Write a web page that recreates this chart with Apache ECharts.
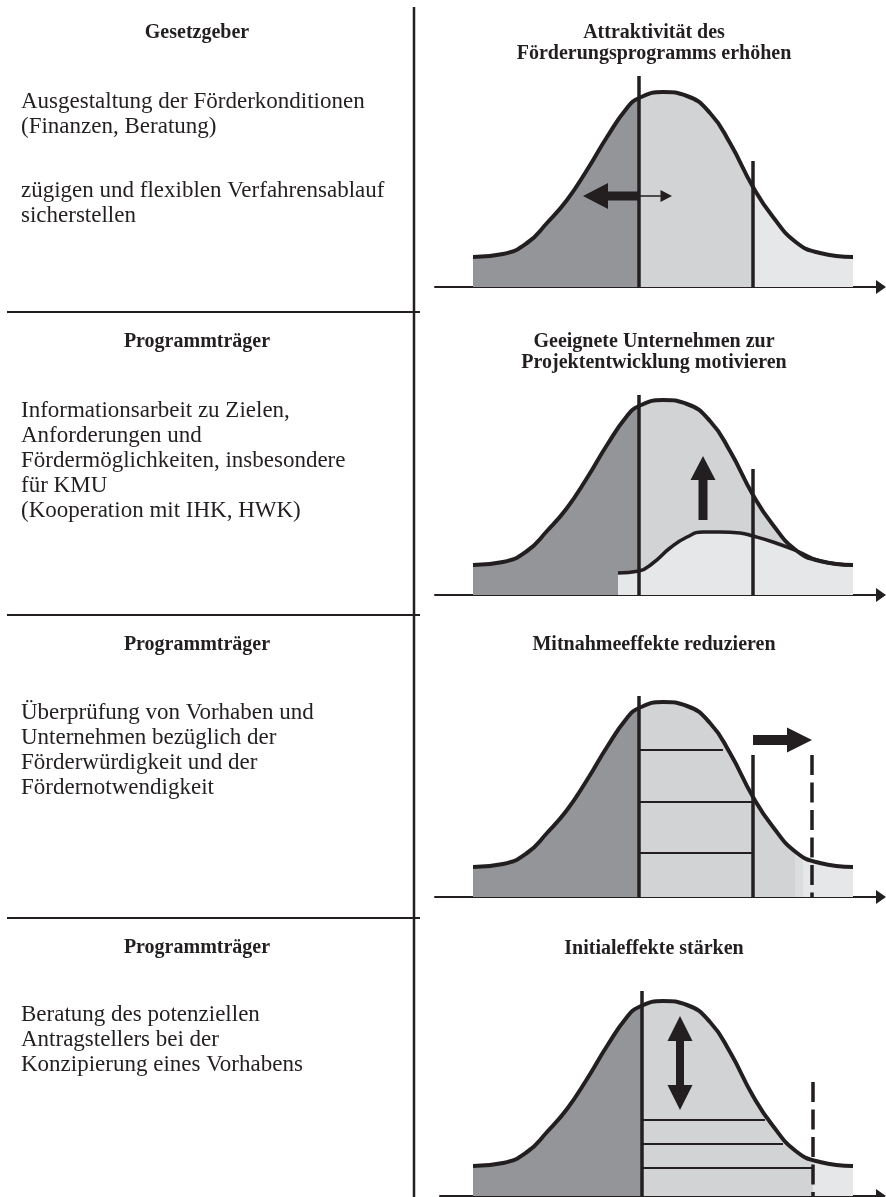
<!DOCTYPE html>
<html>
<head>
<meta charset="utf-8">
<title>Förderprogramm – Wirkungen</title>
<script src="https://cdn.jsdelivr.net/npm/echarts@6/dist/echarts.min.js"></script>
<style>
html, body { margin: 0; padding: 0; background: #fff; }
#chart { width: 886px; height: 1197px; }
</style>
</head>
<body>
<div id="chart"></div>
<script>
// Glockenkurve, x = Abstand vom Achsenanfang, y = Hoehe ueber der Achse
var curveX = [38, 68, 92, 112, 132, 152, 172, 192, 204, 228, 252, 275, 295, 318, 338, 362, 385, 418];
var curveY = [30, 33, 44, 64, 87, 117, 150, 179, 189, 195, 191, 174, 144, 100, 70, 44, 34, 30];

// flache zweite Kurve (Feld 2)
var smallX = [183, 204, 218, 235, 252, 268, 285, 305, 318, 338, 362, 385, 418];
var smallY = [22, 24, 32, 47, 58, 63, 63, 62, 59, 53, 44, 34, 30];

// Grenzen der Grauflaechen je Feld
var p1Bands = [204, 318];
var p2Bands = [204, 446];
var p3Bands = [204, 360, 368];
var p4Bands = [207, 378];

// senkrechte Linien [x, Hoehe]
var p1Solid = [[204, 211], [318, 126]];
var p2Solid = [[204, 200], [318, 126]];
var p3Solid = [[204, 201], [318, 142]];
var p3Dashed = [[377, 142]];
var p4Solid = [[207, 205]];
var p4Dashed = [[378, 114]];

// waagerechte Linien [x von, x bis, Hoehe]
var p3Steps = [[204, 288, 147], [204, 318, 95], [204, 318, 44]];
var p4Steps = [[207, 330, 76], [207, 348, 52], [207, 377, 28]];

// Pfeile [x1, y1, x2 (Spitze), y2 (Spitze)]
var p1Arrows = [[204, 91, 148, 91]];
var p1ThinArrows = [[204, 91, 237, 91]];
var p2Arrows = [[268, 75, 268, 139]];
var p3Arrows = [[318, 157, 377, 157]];
var p4Arrows = [[245, 133, 245, 180], [245, 133, 245, 86]];

var leftHeads = ['Gesetzgeber', 'Programmträger', 'Programmträger', 'Programmträger'];
var leftBodies = [
	['Ausgestaltung der Förderkonditionen\n(Finanzen, Beratung)', 'zügigen und flexiblen Verfahrensablauf\nsicherstellen'],
	['Informationsarbeit zu Zielen,\nAnforderungen und\nFördermöglichkeiten, insbesondere\nfür KMU\n(Kooperation mit IHK, HWK)'],
	['Überprüfung von Vorhaben und\nUnternehmen bezüglich der\nFörderwürdigkeit und der\nFördernotwendigkeit'],
	['Beratung des potenziellen\nAntragstellers bei der\nKonzipierung eines Vorhabens']
];
var rightTitles = [
	'Attraktivität des\nFörderungsprogramms erhöhen',
	'Geeignete Unternehmen zur\nProjektentwicklung motivieren',
	'Mitnahmeeffekte reduzieren',
	'Initialeffekte stärken'
];

var INK = '#231f20', DARK = '#939598', MID = '#d1d3d4', LIGHT = '#e6e7e8';
var SERIF = '"Liberation Serif", "Times New Roman", serif';

var chart = echarts.init(document.getElementById('chart'));

function pairs(xs, ys) {
	return xs.map(function (x, i) { return [x, ys[i]]; });
}
var bellData = pairs(curveX, curveY);
var smallData = pairs(smallX, smallY);

// Layout der vier Felder
var axisY = [287, 595, 897, 1196];
var axisLeft = [435, 435, 435, 440];
var xMax = 446, yMax = 220;

var grids = [], xAxes = [], yAxes = [], series = [], visualMaps = [];

axisY.forEach(function (ay, i) {
	var x0 = axisLeft[i] - 435;
	grids.push({ left: axisLeft[i], top: ay - yMax, width: xMax - x0, height: yMax });
	xAxes.push({
		gridIndex: i, type: 'value', min: x0, max: xMax,
		axisLine: { show: true, onZero: false, symbol: ['none', 'triangle'], symbolSize: [14, 10], lineStyle: { color: INK, width: 2 } },
		axisTick: { show: false }, axisLabel: { show: false }, splitLine: { show: false }
	});
	yAxes.push({ gridIndex: i, type: 'value', min: 0, max: yMax, show: false });
});

function bellFill(i, bands, colors) {
	var pieces = [{ lt: bands[0], color: colors[0] }];
	for (var k = 1; k < bands.length; k++) {
		pieces.push({ gte: bands[k - 1], lt: bands[k], color: colors[k] });
	}
	pieces.push({ gte: bands[bands.length - 1], color: colors[bands.length] });
	visualMaps.push({ type: 'piecewise', show: false, dimension: 0, seriesIndex: series.length, pieces: pieces });
	series.push({
		type: 'line', xAxisIndex: i, yAxisIndex: i, data: bellData, smooth: true, symbol: 'none', silent: true, z: 2,
		lineStyle: { width: 0, opacity: 0 }, areaStyle: { opacity: 1 }
	});
}

function bellStroke(i, data, width) {
	series.push({
		type: 'line', xAxisIndex: i, yAxisIndex: i, data: data, smooth: true, symbol: 'none', silent: true, z: 4,
		lineStyle: { color: INK, width: width }
	});
}

function vLines(i, data, dashed) {
	series.push({
		type: 'custom', xAxisIndex: i, yAxisIndex: i, data: data, silent: true, clip: false, z: 5,
		renderItem: function (params, api) {
			var a = api.coord([api.value(0), api.value(1)]);
			var b = api.coord([api.value(0), 0]);
			return {
				type: 'line', shape: { x1: a[0], y1: a[1], x2: b[0], y2: b[1] },
				style: { stroke: INK, fill: null, lineWidth: 3.5, lineDash: dashed ? [20, 7.5] : null }
			};
		}
	});
}

function hLines(i, data) {
	series.push({
		type: 'custom', xAxisIndex: i, yAxisIndex: i, data: data, silent: true, clip: false, z: 3,
		renderItem: function (params, api) {
			var a = api.coord([api.value(0), api.value(2)]);
			var b = api.coord([api.value(1), api.value(2)]);
			return {
				type: 'line', shape: { x1: a[0], y1: a[1], x2: b[0], y2: b[1] },
				style: { stroke: INK, fill: null, lineWidth: 2 }
			};
		}
	});
}

function arrows(i, data, shaft, headLen, headW) {
	series.push({
		type: 'custom', xAxisIndex: i, yAxisIndex: i, data: data, silent: true, clip: false, z: 6,
		renderItem: function (params, api) {
			var p = api.coord([api.value(0), api.value(1)]);
			var q = api.coord([api.value(2), api.value(3)]);
			var dx = q[0] - p[0], dy = q[1] - p[1];
			var len = Math.sqrt(dx * dx + dy * dy);
			var ux = dx / len, uy = dy / len, nx = -uy, ny = ux;
			var bx = q[0] - ux * headLen, by = q[1] - uy * headLen;
			var s = shaft / 2, h = headW / 2;
			return {
				type: 'polygon',
				shape: { points: [
					[p[0] + nx * s, p[1] + ny * s], [bx + nx * s, by + ny * s], [bx + nx * h, by + ny * h],
					[q[0], q[1]],
					[bx - nx * h, by - ny * h], [bx - nx * s, by - ny * s], [p[0] - nx * s, p[1] - ny * s]
				] },
				style: { fill: INK }
			};
		}
	});
}

// Feld 1
bellFill(0, p1Bands, [DARK, MID, LIGHT]);
bellStroke(0, bellData, 4);
vLines(0, p1Solid, false);
arrows(0, p1Arrows, 9, 25, 26);
arrows(0, p1ThinArrows, 1.5, 11.5, 12);

// Feld 2
bellFill(1, p2Bands, [DARK, MID, MID]);
series.push({
	type: 'line', xAxisIndex: 1, yAxisIndex: 1, data: smallData, smooth: true, symbol: 'none', silent: true, z: 3,
	lineStyle: { color: INK, width: 3.5 }, areaStyle: { color: LIGHT, opacity: 1 }
});
bellStroke(1, bellData, 4);
vLines(1, p2Solid, false);
arrows(1, p2Arrows, 9, 24, 25);

// Feld 3
bellFill(2, p3Bands, [DARK, MID, '#dcdddf', LIGHT]);
hLines(2, p3Steps);
bellStroke(2, bellData, 4);
vLines(2, p3Solid, false);
vLines(2, p3Dashed, true);
arrows(2, p3Arrows, 10, 25, 25);

// Feld 4
bellFill(3, p4Bands, [DARK, MID, LIGHT]);
hLines(3, p4Steps);
bellStroke(3, bellData, 4);
vLines(3, p4Solid, false);
vLines(3, p4Dashed, true);
arrows(3, p4Arrows, 8, 25, 25);

// Texte und Trennlinien
var graphics = [];
function textTop(baseline, size, lh) { return baseline - (lh / 2 + 0.3375 * size); }
function addText(x, baseline, text, bold, size, lh, align) {
	graphics.push({
		type: 'text', x: x, y: textTop(baseline, size, lh), silent: true,
		style: {
			text: text, fill: INK, font: (bold ? 'bold ' : '') + size + 'px ' + SERIF,
			lineHeight: lh, align: align, verticalAlign: 'top', textAlign: align, textVerticalAlign: 'top'
		}
	});
}

var headBase = [39.3, 348.3, 651.7, 955];
var bodyBase = [[110, 199], [418.3], [720.7], [1023]];
var titleBase = [39.3, 349, 652, 956];
var sepY = [312, 615, 918];

leftHeads.forEach(function (t, i) { addText(197, headBase[i], t, true, 20, 21, 'center'); });
leftBodies.forEach(function (blocks, i) {
	blocks.forEach(function (t, k) { addText(21, bodyBase[i][k], t, false, 23, 25, 'left'); });
});
rightTitles.forEach(function (t, i) { addText(654, titleBase[i], t, true, 20, 21, 'center'); });

sepY.forEach(function (y) {
	graphics.push({ type: 'line', silent: true, shape: { x1: 7, y1: y, x2: 420, y2: y }, style: { stroke: INK, lineWidth: 2 } });
});
graphics.push({ type: 'line', silent: true, shape: { x1: 414, y1: 7, x2: 414, y2: 1197 }, style: { stroke: INK, lineWidth: 2.5 } });

chart.setOption({
	animation: false,
	backgroundColor: '#fff',
	grid: grids,
	xAxis: xAxes,
	yAxis: yAxes,
	visualMap: visualMaps,
	series: series,
	graphic: graphics
});
</script>
</body>
</html>
